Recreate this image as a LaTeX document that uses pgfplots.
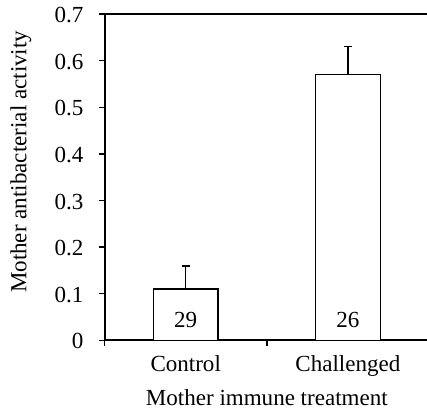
\documentclass[border=0pt]{standalone}
\usepackage{pgfplots}
\pgfplotsset{compat=1.18}
\usepackage{fontspec}
\setmainfont{Liberation Serif}
\begin{document}
\fontsize{11.5}{14}\selectfont
\begin{tikzpicture}
\begin{axis}[
  scale only axis,
  width=162pt, height=163pt,
  xmin=0, xmax=2, ymin=0, ymax=0.7,
  axis x line=box, axis y line=left,
  axis line style={line width=0.9pt, -},
  ytick={0,0.1,...,0.7},
  yticklabels={0,0.1,0.2,0.3,0.4,0.5,0.6,0.7},
  xtick={0,1,2}, xticklabels={},
  xtick pos=bottom, ytick pos=left,
  tick align=outside,
  major tick length=2.6pt,
  tick style={line width=0.7pt, black},
  extra x ticks={0.5,1.5},
  extra x tick labels={Control,Challenged},
  extra x tick style={major tick length=0pt, tick style={draw=none},
    xticklabel style={anchor=base, yshift=-15.5pt}},
  yticklabel style={anchor=east, inner sep=0pt, xshift=-7.8pt, yshift=-0.5pt},
  /pgf/number format/assume math mode=true,
  ylabel={Mother antibacterial activity},
  xlabel={Mother immune treatment},
  xlabel style={at={(axis description cs:0.5,0)}, anchor=base, yshift=-32.5pt},
  ylabel style={at={(axis description cs:-0.258,0.547)}, anchor=center},
  ybar, bar width=0.4,
]
\addplot[fill=white, draw=black, line width=0.75pt,
  error bars/.cd, y dir=plus, y explicit,
  error mark=-,
  error bar style={line width=0.75pt, draw=black},
  error mark options={line width=0.75pt, mark size=2pt, draw=black, rotate=90}]
  coordinates {(0.5,0.11) +- (0,0.05) (1.5,0.57) +- (0,0.06)};
\node at (axis cs:0.5,0.043) {29};
\node at (axis cs:1.5,0.043) {26};
\end{axis}
\pgfresetboundingbox
\path ([shift={(-52.25pt,-35.5pt)}]current axis.south west) rectangle ([shift={(-1pt,7pt)}]current axis.north east);
\end{tikzpicture}
\end{document}
